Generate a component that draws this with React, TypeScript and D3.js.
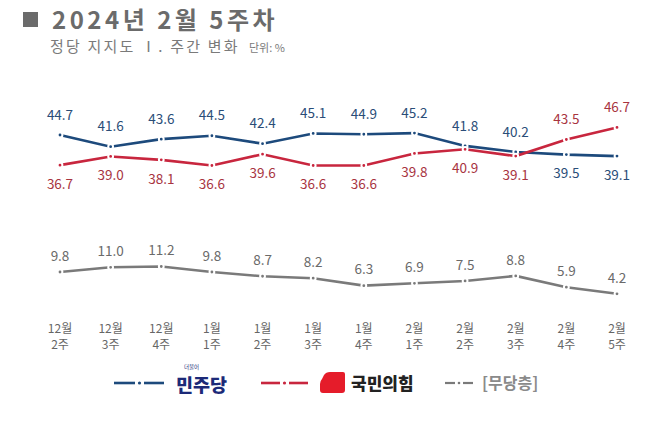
import React from "react";
import * as d3 from "d3";

const weeks = ["12월|2주", "12월|3주", "12월|4주", "1월|1주", "1월|2주", "1월|3주", "1월|4주", "2월|1주", "2월|2주", "2월|3주", "2월|4주", "2월|5주"];
const minju = [44.7, 41.6, 43.6, 44.5, 42.4, 45.1, 44.9, 45.2, 41.8, 40.2, 39.5, 39.1];
const ppp = [36.7, 39.0, 38.1, 36.6, 39.6, 36.6, 36.6, 39.8, 40.9, 39.1, 43.5, 46.7];
const indep = [9.8, 11.0, 11.2, 9.8, 8.7, 8.2, 6.3, 6.9, 7.5, 8.8, 5.9, 4.2];
// label placement: 1 = above, -1 = below
const minjuPos = [1, 1, 1, 1, 1, 1, 1, 1, 1, 1, -1, -1];
const pppPos = [-1, -1, -1, -1, -1, -1, -1, -1, -1, -1, 1, 1];

const FONT = "'Noto Sans CJK KR', 'Noto Sans', sans-serif";
const BLUE = "#1d4a7c";
const BLUE_T = "#2a4d78";
const RED = "#c8263e";
const RED_T = "#a8343f";
const GRAY = "#7a7a7a";
const GRAY_T = "#6a6a6a";

export default function App() {
  const W = 658, H = 425;
  const x = d3.scalePoint<number>().domain(d3.range(weeks.length)).range([60, 617]);
  const yTop = d3.scaleLinear().domain([30, 50]).range([190.4, 115]);
  const yBot = d3.scaleLinear().domain([0, 15]).range([310.2, 251.7]);
  const line = (ys: (v: number) => number) =>
    d3.line<number>().x((_, i) => x(i) as number).y((v) => ys(v));

  const series = [
    { data: minju, y: yTop, color: BLUE, tc: BLUE_T, pos: minjuPos },
    { data: ppp, y: yTop, color: RED, tc: RED_T, pos: pppPos },
    { data: indep, y: yBot, color: GRAY, tc: GRAY_T, pos: indep.map(() => 1) },
  ];

  return (
    <svg width={W} height={H} style={{ position: "absolute", left: 0, top: 0, background: "#fff" }} fontFamily={FONT}>
      <rect width={W} height={H} fill="#fff" />
      {/* title */}
      <rect x={23} y={12} width={15} height={15} fill="#6b6b6b" />
      <text x={52} y={29} fontSize={24} fontWeight={700} fill="#6b6b6b" letterSpacing={3.5}>2024년 2월 5주차</text>
      <text x={50} y={52} fontSize={15} fill="#7a7a7a" letterSpacing={2.2}>정당 지지도  Ⅰ. 주간 변화</text>
      <text x={249} y={52} fontSize={11} fill="#7a7a7a">단위: %</text>

      {series.map((s, si) => (
        <g key={si}>
          <path d={line(s.y)(s.data) || ""} fill="none" stroke={s.color} strokeWidth={2.6} />
          {s.data.map((v, i) => (
            <circle key={i} cx={x(i)} cy={s.y(v)} r={2.4} fill={s.color} stroke="#fff" strokeWidth={2} />
          ))}
          {s.data.map((v, i) => {
            const off = si === 2 ? -16 : s.pos[i] > 0 ? -20 : 19;
            return (
              <text key={"t" + i} x={x(i)} y={s.y(v) + off} dy="0.35em" textAnchor="middle" fontSize={13.5} fill={s.tc}>
                {v.toFixed(1)}
              </text>
            );
          })}
        </g>
      ))}

      {/* x labels */}
      {weeks.map((w, i) => {
        const [a, b] = w.split("|");
        return (
          <g key={w} fill="#666" fontSize={12} textAnchor="middle">
            <text x={x(i)} y={333}>{a}</text>
            <text x={x(i)} y={349}>{b}</text>
          </g>
        );
      })}

      {/* legend */}
      <g>
        <line x1={114} x2={135} y1={383} y2={383} stroke={BLUE} strokeWidth={2.6} />
        <line x1={144} x2={164} y1={383} y2={383} stroke={BLUE} strokeWidth={2.6} />
        <circle cx={139.5} cy={383} r={1.6} fill={BLUE} />
        <text x={184} y={369} fontSize={5.5} fill="#1c2f7a">더불어</text>
        <text x={176} y={392} fontSize={18.5} fontWeight={900} fill="#1c2a78">민주당</text>

        <line x1={261} x2={280} y1={383} y2={383} stroke={RED} strokeWidth={2.6} />
        <line x1={289} x2={308} y1={383} y2={383} stroke={RED} strokeWidth={2.6} />
        <circle cx={284.5} cy={383} r={1.6} fill={RED} />
        <path d="M324,375 Q326,372 330,372 L343,372 Q345,372 345,374 L345,390 Q345,393 342,393 L323,393 Q320,393 320,390 L320,384 Q320,381 322,379 Z" fill="#e51c2a" />
        <text x={351} y={390} fontSize={17} fontWeight={900} fill="#222">국민의힘</text>

        <line x1={445} x2={455} y1={383} y2={383} stroke={GRAY} strokeWidth={2.2} />
        <line x1={463} x2={473} y1={383} y2={383} stroke={GRAY} strokeWidth={2.2} />
        <circle cx={459} cy={383} r={1.3} fill={GRAY} />
        <text x={482} y={389} fontSize={16} fontWeight={700} fill="#8a8a8a">[무당층]</text>
      </g>
    </svg>
  );
}
